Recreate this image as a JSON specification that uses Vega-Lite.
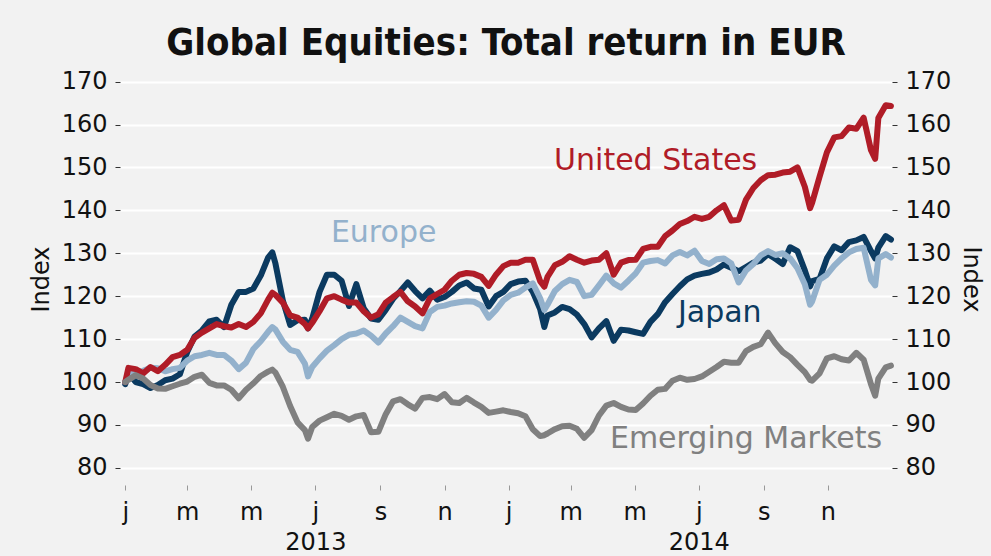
{
  "$schema": "https://vega.github.io/schema/vega-lite/v6.json",
  "width": 772,
  "height": 412,
  "autosize": {"type": "none"},
  "padding": {"left": 120, "top": 73, "right": 99, "bottom": 71},
  "background": "#f2f2f2",
  "config": {"view": {"stroke": null}, "font": "DejaVu Sans"},
  "title": {"text": "Global Equities: Total return in EUR", "font": "DejaVu Sans Condensed", "fontWeight": "bold", "fontSize": 38, "color": "#111111", "anchor": "middle", "frame": "group", "baseline": "alphabetic", "offset": 18, "dy": 41},
  "datasets": {
    "us": [
      {"date":"2013-01-01","value":100},{"date":"2013-01-04","value":103.3},{"date":"2013-01-11","value":103},{"date":"2013-01-18","value":102},{"date":"2013-01-25","value":103.5},
      {"date":"2013-02-01","value":102.5},{"date":"2013-02-08","value":104},{"date":"2013-02-15","value":105.8},{"date":"2013-02-22","value":106.3},
      {"date":"2013-03-01","value":107.5},{"date":"2013-03-08","value":110.3},{"date":"2013-03-15","value":111.5},{"date":"2013-03-22","value":112.5},{"date":"2013-03-29","value":113.5},
      {"date":"2013-04-05","value":113},{"date":"2013-04-12","value":112.7},{"date":"2013-04-19","value":113.5},{"date":"2013-04-26","value":112.8},
      {"date":"2013-05-03","value":114},{"date":"2013-05-10","value":116},{"date":"2013-05-17","value":119.2},{"date":"2013-05-21","value":120.8},{"date":"2013-05-24","value":120.3},{"date":"2013-05-31","value":118.5},
      {"date":"2013-06-07","value":115.5},{"date":"2013-06-14","value":115},{"date":"2013-06-21","value":113.5},{"date":"2013-06-24","value":112.5},{"date":"2013-06-28","value":113.8},
      {"date":"2013-07-05","value":116.5},{"date":"2013-07-12","value":119.5},{"date":"2013-07-19","value":120},{"date":"2013-07-26","value":119.2},
      {"date":"2013-08-02","value":118.5},{"date":"2013-08-09","value":118.5},{"date":"2013-08-16","value":116.5},{"date":"2013-08-23","value":115},{"date":"2013-08-30","value":115.8},
      {"date":"2013-09-06","value":118.5},{"date":"2013-09-13","value":119.8},{"date":"2013-09-20","value":121},{"date":"2013-09-27","value":118.8},
      {"date":"2013-10-04","value":117.6},{"date":"2013-10-11","value":116},{"date":"2013-10-18","value":119.5},{"date":"2013-10-25","value":120.5},
      {"date":"2013-11-01","value":121.5},{"date":"2013-11-08","value":123.6},{"date":"2013-11-15","value":125},{"date":"2013-11-22","value":125.4},{"date":"2013-11-29","value":125.2},
      {"date":"2013-12-06","value":124.5},{"date":"2013-12-13","value":122.4},{"date":"2013-12-20","value":125},{"date":"2013-12-27","value":127},
      {"date":"2014-01-03","value":127.8},{"date":"2014-01-10","value":127.8},{"date":"2014-01-17","value":128.5},{"date":"2014-01-24","value":128.5},{"date":"2014-01-31","value":123.5},
      {"date":"2014-02-04","value":122.2},{"date":"2014-02-07","value":124.5},{"date":"2014-02-14","value":127.2},{"date":"2014-02-21","value":128},{"date":"2014-02-28","value":129.3},
      {"date":"2014-03-07","value":128.5},{"date":"2014-03-14","value":127.8},{"date":"2014-03-21","value":128.3},{"date":"2014-03-28","value":128.5},
      {"date":"2014-04-04","value":130},{"date":"2014-04-11","value":125},{"date":"2014-04-18","value":127.8},{"date":"2014-04-25","value":128.4},
      {"date":"2014-05-02","value":128.5},{"date":"2014-05-09","value":131},{"date":"2014-05-16","value":131.5},{"date":"2014-05-23","value":131.5},{"date":"2014-05-30","value":134},
      {"date":"2014-06-06","value":135.3},{"date":"2014-06-13","value":136.8},{"date":"2014-06-20","value":137.5},{"date":"2014-06-27","value":138.5},
      {"date":"2014-07-04","value":138},{"date":"2014-07-11","value":138.5},{"date":"2014-07-18","value":140},{"date":"2014-07-25","value":141.2},
      {"date":"2014-08-01","value":137.6},{"date":"2014-08-08","value":137.8},{"date":"2014-08-15","value":142.5},{"date":"2014-08-22","value":145.2},{"date":"2014-08-29","value":147},
      {"date":"2014-09-05","value":148.2},{"date":"2014-09-12","value":148.3},{"date":"2014-09-19","value":148.8},{"date":"2014-09-26","value":149},
      {"date":"2014-10-03","value":150},{"date":"2014-10-10","value":145.5},{"date":"2014-10-15","value":140.5},{"date":"2014-10-17","value":141.8},{"date":"2014-10-24","value":147.8},{"date":"2014-10-31","value":153.5},
      {"date":"2014-11-07","value":157},{"date":"2014-11-14","value":157.3},{"date":"2014-11-21","value":159.3},{"date":"2014-11-28","value":159},
      {"date":"2014-12-05","value":161.6},{"date":"2014-12-12","value":154},{"date":"2014-12-16","value":152},{"date":"2014-12-19","value":161.5},{"date":"2014-12-26","value":164.5},{"date":"2014-12-31","value":164.3}
    ],
    "europe": [
      {"date":"2013-01-01","value":100},{"date":"2013-01-04","value":101.8},{"date":"2013-01-11","value":102.2},{"date":"2013-01-18","value":102.6},{"date":"2013-01-25","value":103.3},
      {"date":"2013-02-01","value":103.2},{"date":"2013-02-08","value":102.5},{"date":"2013-02-15","value":103},{"date":"2013-02-22","value":103.3},
      {"date":"2013-03-01","value":105},{"date":"2013-03-08","value":106},{"date":"2013-03-15","value":106.3},{"date":"2013-03-22","value":106.8},{"date":"2013-03-29","value":106.3},
      {"date":"2013-04-05","value":106.3},{"date":"2013-04-12","value":105},{"date":"2013-04-19","value":103},{"date":"2013-04-26","value":104.5},
      {"date":"2013-05-03","value":107.7},{"date":"2013-05-10","value":109.5},{"date":"2013-05-17","value":111.7},{"date":"2013-05-21","value":112.8},{"date":"2013-05-24","value":112.2},{"date":"2013-05-31","value":109.4},
      {"date":"2013-06-07","value":107.5},{"date":"2013-06-14","value":107},{"date":"2013-06-21","value":104.3},{"date":"2013-06-24","value":101.3},{"date":"2013-06-28","value":103.5},
      {"date":"2013-07-05","value":105.5},{"date":"2013-07-12","value":107.3},{"date":"2013-07-19","value":108.6},{"date":"2013-07-26","value":110},
      {"date":"2013-08-02","value":111},{"date":"2013-08-09","value":111.3},{"date":"2013-08-16","value":112},{"date":"2013-08-23","value":110.8},{"date":"2013-08-30","value":109.2},
      {"date":"2013-09-06","value":111.3},{"date":"2013-09-13","value":113},{"date":"2013-09-20","value":115},{"date":"2013-09-27","value":114},
      {"date":"2013-10-04","value":113},{"date":"2013-10-11","value":112.5},{"date":"2013-10-18","value":116.3},{"date":"2013-10-25","value":117.5},
      {"date":"2013-11-01","value":117.8},{"date":"2013-11-08","value":118.3},{"date":"2013-11-15","value":118.6},{"date":"2013-11-22","value":118.8},{"date":"2013-11-29","value":118.7},
      {"date":"2013-12-06","value":117.8},{"date":"2013-12-13","value":115},{"date":"2013-12-20","value":116.8},{"date":"2013-12-27","value":119},
      {"date":"2014-01-03","value":120.3},{"date":"2014-01-10","value":120.8},{"date":"2014-01-17","value":122},{"date":"2014-01-24","value":123},{"date":"2014-01-31","value":119.5},
      {"date":"2014-02-04","value":116.8},{"date":"2014-02-07","value":118},{"date":"2014-02-14","value":121.2},{"date":"2014-02-21","value":122.8},{"date":"2014-02-28","value":123.8},
      {"date":"2014-03-07","value":123.3},{"date":"2014-03-14","value":120},{"date":"2014-03-21","value":120.3},{"date":"2014-03-28","value":122.5},
      {"date":"2014-04-04","value":124.8},{"date":"2014-04-11","value":123},{"date":"2014-04-18","value":122},{"date":"2014-04-25","value":123.6},
      {"date":"2014-05-02","value":125.3},{"date":"2014-05-09","value":127.8},{"date":"2014-05-16","value":128.2},{"date":"2014-05-23","value":128.4},{"date":"2014-05-30","value":127.6},
      {"date":"2014-06-06","value":129.5},{"date":"2014-06-13","value":130.3},{"date":"2014-06-20","value":129.5},{"date":"2014-06-27","value":130.6},
      {"date":"2014-07-04","value":128.2},{"date":"2014-07-11","value":127.5},{"date":"2014-07-18","value":128.6},{"date":"2014-07-25","value":128.8},
      {"date":"2014-08-01","value":127.6},{"date":"2014-08-08","value":123.2},{"date":"2014-08-15","value":126},{"date":"2014-08-22","value":127.5},{"date":"2014-08-29","value":129.5},
      {"date":"2014-09-05","value":130.5},{"date":"2014-09-12","value":129.6},{"date":"2014-09-19","value":130},{"date":"2014-09-26","value":128.8},
      {"date":"2014-10-03","value":126.5},{"date":"2014-10-10","value":122.8},{"date":"2014-10-15","value":118},{"date":"2014-10-17","value":118.8},{"date":"2014-10-24","value":123.8},{"date":"2014-10-31","value":125},
      {"date":"2014-11-07","value":127.1},{"date":"2014-11-14","value":128.8},{"date":"2014-11-21","value":130.2},{"date":"2014-11-28","value":131},
      {"date":"2014-12-05","value":131.3},{"date":"2014-12-12","value":123.8},{"date":"2014-12-16","value":122.5},{"date":"2014-12-19","value":128.8},{"date":"2014-12-26","value":129.8},{"date":"2014-12-31","value":129}
    ],
    "japan": [
      {"date":"2013-01-01","value":99.5},{"date":"2013-01-04","value":102},{"date":"2013-01-11","value":100},{"date":"2013-01-18","value":99.5},{"date":"2013-01-25","value":98.6},
      {"date":"2013-02-01","value":99.3},{"date":"2013-02-08","value":100.4},{"date":"2013-02-15","value":100.8},{"date":"2013-02-22","value":101.8},
      {"date":"2013-03-01","value":107},{"date":"2013-03-08","value":110.6},{"date":"2013-03-15","value":112},{"date":"2013-03-22","value":114.1},{"date":"2013-03-29","value":114.5},
      {"date":"2013-04-05","value":112.8},{"date":"2013-04-12","value":118},{"date":"2013-04-19","value":121},{"date":"2013-04-26","value":121},
      {"date":"2013-05-03","value":121.8},{"date":"2013-05-10","value":124.8},{"date":"2013-05-17","value":129},{"date":"2013-05-21","value":130.2},{"date":"2013-05-24","value":127.6},{"date":"2013-05-31","value":119},
      {"date":"2013-06-07","value":113.3},{"date":"2013-06-14","value":114.4},{"date":"2013-06-21","value":114.5},{"date":"2013-06-24","value":112.5},{"date":"2013-06-28","value":114.8},
      {"date":"2013-07-05","value":121},{"date":"2013-07-12","value":125},{"date":"2013-07-19","value":125},{"date":"2013-07-26","value":123.6},
      {"date":"2013-08-02","value":117.7},{"date":"2013-08-09","value":122.8},{"date":"2013-08-16","value":117.2},{"date":"2013-08-23","value":114.8},{"date":"2013-08-30","value":114.5},
      {"date":"2013-09-06","value":116.8},{"date":"2013-09-13","value":119.4},{"date":"2013-09-20","value":121.2},{"date":"2013-09-27","value":123.2},
      {"date":"2013-10-04","value":121.2},{"date":"2013-10-11","value":119.5},{"date":"2013-10-18","value":121.3},{"date":"2013-10-25","value":119.2},
      {"date":"2013-11-01","value":119.8},{"date":"2013-11-08","value":121},{"date":"2013-11-15","value":122.5},{"date":"2013-11-22","value":123.2},{"date":"2013-11-29","value":121.8},
      {"date":"2013-12-06","value":121.5},{"date":"2013-12-13","value":117.6},{"date":"2013-12-20","value":120},{"date":"2013-12-27","value":121},
      {"date":"2014-01-03","value":122.8},{"date":"2014-01-10","value":123.4},{"date":"2014-01-17","value":123.6},{"date":"2014-01-24","value":121},{"date":"2014-01-31","value":117},
      {"date":"2014-02-04","value":112.8},{"date":"2014-02-07","value":115.5},{"date":"2014-02-14","value":116.2},{"date":"2014-02-21","value":117.5},{"date":"2014-02-28","value":117},
      {"date":"2014-03-07","value":115.7},{"date":"2014-03-14","value":113.5},{"date":"2014-03-21","value":110.4},{"date":"2014-03-28","value":112.5},
      {"date":"2014-04-04","value":114.2},{"date":"2014-04-11","value":109.6},{"date":"2014-04-18","value":112.2},{"date":"2014-04-25","value":112},
      {"date":"2014-05-02","value":111.6},{"date":"2014-05-09","value":111.2},{"date":"2014-05-16","value":114},{"date":"2014-05-23","value":115.8},{"date":"2014-05-30","value":118.6},
      {"date":"2014-06-06","value":120.5},{"date":"2014-06-13","value":122.3},{"date":"2014-06-20","value":123.9},{"date":"2014-06-27","value":124.8},
      {"date":"2014-07-04","value":125.2},{"date":"2014-07-11","value":125.5},{"date":"2014-07-18","value":126.2},{"date":"2014-07-25","value":127.4},
      {"date":"2014-08-01","value":126.6},{"date":"2014-08-08","value":125.8},{"date":"2014-08-15","value":126.8},{"date":"2014-08-22","value":127.8},{"date":"2014-08-29","value":128.3},
      {"date":"2014-09-05","value":129.8},{"date":"2014-09-12","value":128.7},{"date":"2014-09-19","value":127.5},{"date":"2014-09-26","value":131.4},
      {"date":"2014-10-03","value":130.5},{"date":"2014-10-10","value":126},{"date":"2014-10-15","value":122.3},{"date":"2014-10-17","value":123.5},{"date":"2014-10-24","value":124},{"date":"2014-10-31","value":128.8},
      {"date":"2014-11-07","value":131.6},{"date":"2014-11-14","value":130.7},{"date":"2014-11-21","value":132.6},{"date":"2014-11-28","value":133},
      {"date":"2014-12-05","value":133.8},{"date":"2014-12-12","value":130.5},{"date":"2014-12-16","value":128.8},{"date":"2014-12-19","value":131.3},{"date":"2014-12-26","value":134},{"date":"2014-12-31","value":133.2}
    ],
    "em": [
      {"date":"2013-01-01","value":100},{"date":"2013-01-04","value":100.5},{"date":"2013-01-11","value":101.6},{"date":"2013-01-18","value":100.8},{"date":"2013-01-25","value":99.3},
      {"date":"2013-02-01","value":98.5},{"date":"2013-02-08","value":98.4},{"date":"2013-02-15","value":99},{"date":"2013-02-22","value":99.6},
      {"date":"2013-03-01","value":100.1},{"date":"2013-03-08","value":101.2},{"date":"2013-03-15","value":101.7},{"date":"2013-03-22","value":99.8},{"date":"2013-03-29","value":99.2},
      {"date":"2013-04-05","value":99.2},{"date":"2013-04-12","value":98.2},{"date":"2013-04-19","value":96.2},{"date":"2013-04-26","value":98.2},
      {"date":"2013-05-03","value":99.7},{"date":"2013-05-10","value":101.4},{"date":"2013-05-17","value":102.4},{"date":"2013-05-21","value":102.9},{"date":"2013-05-24","value":102.2},{"date":"2013-05-31","value":98.9},
      {"date":"2013-06-07","value":94.4},{"date":"2013-06-14","value":90.6},{"date":"2013-06-21","value":88.8},{"date":"2013-06-24","value":86.8},{"date":"2013-06-28","value":89.5},
      {"date":"2013-07-05","value":91},{"date":"2013-07-12","value":91.8},{"date":"2013-07-19","value":92.6},{"date":"2013-07-26","value":92.1},
      {"date":"2013-08-02","value":91.2},{"date":"2013-08-09","value":92},{"date":"2013-08-16","value":92.3},{"date":"2013-08-23","value":88.3},{"date":"2013-08-30","value":88.4},
      {"date":"2013-09-06","value":92.5},{"date":"2013-09-13","value":95.5},{"date":"2013-09-20","value":96},{"date":"2013-09-27","value":94.8},
      {"date":"2013-10-04","value":93.8},{"date":"2013-10-11","value":96.3},{"date":"2013-10-18","value":96.5},{"date":"2013-10-25","value":96},
      {"date":"2013-11-01","value":97.2},{"date":"2013-11-08","value":95.3},{"date":"2013-11-15","value":95.1},{"date":"2013-11-22","value":96.3},{"date":"2013-11-29","value":95.2},
      {"date":"2013-12-06","value":94.2},{"date":"2013-12-13","value":92.8},{"date":"2013-12-20","value":93.1},{"date":"2013-12-27","value":93.4},
      {"date":"2014-01-03","value":93},{"date":"2014-01-10","value":92.7},{"date":"2014-01-17","value":92},{"date":"2014-01-24","value":89},{"date":"2014-01-31","value":87.4},
      {"date":"2014-02-04","value":87.6},{"date":"2014-02-07","value":88},{"date":"2014-02-14","value":89},{"date":"2014-02-21","value":89.7},{"date":"2014-02-28","value":89.8},
      {"date":"2014-03-07","value":89.1},{"date":"2014-03-14","value":87},{"date":"2014-03-21","value":88.8},{"date":"2014-03-28","value":92.2},
      {"date":"2014-04-04","value":94.5},{"date":"2014-04-11","value":95.1},{"date":"2014-04-18","value":94.2},{"date":"2014-04-25","value":93.6},
      {"date":"2014-05-02","value":93.5},{"date":"2014-05-09","value":95},{"date":"2014-05-16","value":96.8},{"date":"2014-05-23","value":98.2},{"date":"2014-05-30","value":98.4},
      {"date":"2014-06-06","value":100.3},{"date":"2014-06-13","value":101},{"date":"2014-06-20","value":100.5},{"date":"2014-06-27","value":100.7},
      {"date":"2014-07-04","value":101.3},{"date":"2014-07-11","value":102.4},{"date":"2014-07-18","value":103.5},{"date":"2014-07-25","value":104.7},
      {"date":"2014-08-01","value":104.5},{"date":"2014-08-08","value":104.5},{"date":"2014-08-15","value":107.2},{"date":"2014-08-22","value":108.2},{"date":"2014-08-29","value":108.8},
      {"date":"2014-09-05","value":111.5},{"date":"2014-09-12","value":109},{"date":"2014-09-19","value":107},{"date":"2014-09-26","value":105.8},
      {"date":"2014-10-03","value":104},{"date":"2014-10-10","value":102.3},{"date":"2014-10-15","value":100.5},{"date":"2014-10-17","value":100.3},{"date":"2014-10-24","value":102},{"date":"2014-10-31","value":105.5},
      {"date":"2014-11-07","value":106},{"date":"2014-11-14","value":105.3},{"date":"2014-11-21","value":105},{"date":"2014-11-28","value":106.8},
      {"date":"2014-12-05","value":105.2},{"date":"2014-12-12","value":99.5},{"date":"2014-12-16","value":96.8},{"date":"2014-12-19","value":100.8},{"date":"2014-12-26","value":103.4},{"date":"2014-12-31","value":103.8}
    ],
    "labels": [
      {"date":"2014-05-21","value":149.5,"label":"United States"},
      {"date":"2013-09-04","value":132.7,"label":"Europe"},
      {"date":"2014-07-21","value":114.0,"label":"Japan"},
      {"date":"2014-08-15","value":84.7,"label":"Emerging Markets"}
    ]
  },
  "layer": [
    {
      "data": {"name": "japan"},
      "mark": {"type": "line", "color": "#0b3a60", "strokeWidth": 6, "strokeJoin": "round", "strokeCap": "round"},
      "encoding": {
        "x": {"field": "date", "type": "temporal",
          "scale": {"type": "utc", "domain": [{"year": 2012, "month": 12, "date": 27, "utc": true}, {"year": 2015, "month": 1, "date": 1, "utc": true}]},
          "axis": {"title": null,
            "values": [
              {"year": 2013, "month": 1, "date": 1, "utc": true}, {"year": 2013, "month": 3, "date": 1, "utc": true}, {"year": 2013, "month": 5, "date": 1, "utc": true},
              {"year": 2013, "month": 7, "date": 1, "utc": true}, {"year": 2013, "month": 9, "date": 1, "utc": true}, {"year": 2013, "month": 11, "date": 1, "utc": true},
              {"year": 2014, "month": 1, "date": 1, "utc": true}, {"year": 2014, "month": 3, "date": 1, "utc": true}, {"year": 2014, "month": 5, "date": 1, "utc": true},
              {"year": 2014, "month": 7, "date": 1, "utc": true}, {"year": 2014, "month": 9, "date": 1, "utc": true}, {"year": 2014, "month": 11, "date": 1, "utc": true}
            ],
            "labelExpr": "utcmonth(datum.value) === 6 ? ['j', utcFormat(datum.value, '%Y')] : substring(lower(utcFormat(datum.value, '%b')), 0, 1)", "grid": false, "domain": false, "tickColor": "#999999", "tickSize": 5, "tickWidth": 1, "labelFont": "DejaVu Sans", "labelFontSize": 24, "labelColor": "#111111", "labelPadding": 10, "labelLineHeight": 30, "labelFlush": false, "labelOverlap": false}},
        "y": {"field": "value", "type": "quantitative",
          "scale": {"domain": [76, 172], "nice": false, "zero": false},
          "axis": {"orient": "left", "title": "Index", "titleFont": "DejaVu Sans", "titleFontSize": 24, "titleFontWeight": "normal", "titleColor": "#111111", "titlePadding": 8, "values": [80, 90, 100, 110, 120, 130, 140, 150, 160, 170], "domain": false, "tickColor": "#333333", "tickSize": 5, "labelFont": "DejaVu Sans", "labelFontSize": 24, "labelColor": "#111111", "labelPadding": 8, "grid": true, "gridColor": "#ffffff", "gridWidth": 2}}
      }
    },
    {
      "data": {"name": "europe"},
      "mark": {"type": "line", "color": "#93b1cc", "strokeWidth": 6, "strokeJoin": "round", "strokeCap": "round"},
      "encoding": {
        "x": {"field": "date", "type": "temporal"},
        "y": {"field": "value", "type": "quantitative", "scale": {"domain": [76, 172], "nice": false, "zero": false}, "axis": null}
      }
    },
    {
      "data": {"name": "us"},
      "mark": {"type": "line", "color": "#b01c27", "strokeWidth": 6, "strokeJoin": "round", "strokeCap": "round"},
      "encoding": {
        "x": {"field": "date", "type": "temporal"},
        "y": {"field": "value", "type": "quantitative", "scale": {"domain": [76, 172], "nice": false, "zero": false}, "axis": null}
      }
    },
    {
      "data": {"name": "em"},
      "mark": {"type": "line", "color": "#808080", "strokeWidth": 6, "strokeJoin": "round", "strokeCap": "round"},
      "encoding": {
        "x": {"field": "date", "type": "temporal"},
        "y": {"field": "value", "type": "quantitative", "scale": {"domain": [76, 172], "nice": false, "zero": false}, "axis": null}
      }
    },
    {
      "data": {"name": "labels"},
      "mark": {"type": "text", "font": "DejaVu Sans", "fontSize": 30, "align": "center", "baseline": "alphabetic"},
      "encoding": {
        "x": {"field": "date", "type": "temporal"},
        "y": {"field": "value", "type": "quantitative",
          "scale": {"domain": [76, 172], "nice": false, "zero": false},
          "axis": {"orient": "right", "title": "Index", "titleFont": "DejaVu Sans", "titleFontSize": 24, "titleFontWeight": "normal", "titleColor": "#111111", "titlePadding": 8, "values": [80, 90, 100, 110, 120, 130, 140, 150, 160, 170], "domain": false, "tickColor": "#333333", "tickSize": 5, "labelFont": "DejaVu Sans", "labelFontSize": 24, "labelColor": "#111111", "labelPadding": 8, "grid": false}},
        "text": {"field": "label", "type": "nominal"},
        "color": {"field": "label", "type": "nominal", "legend": null,
          "scale": {"domain": ["United States", "Europe", "Japan", "Emerging Markets"], "range": ["#b01c27", "#93b1cc", "#0b3a60", "#808080"]}}
      }
    }
  ],
  "resolve": {"scale": {"y": "independent"}, "axis": {"y": "independent"}}
}
